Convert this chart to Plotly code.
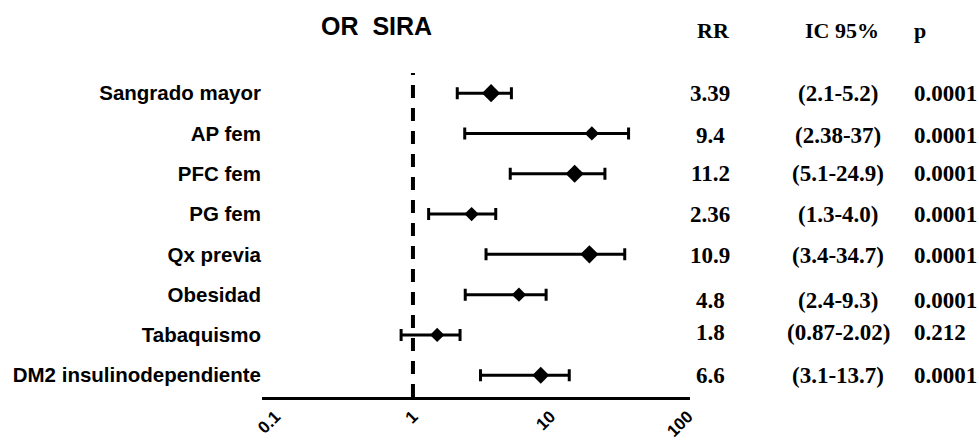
import plotly.graph_objects as go

# ---------------- data ----------------
categories = ["Sangrado mayor", "AP fem", "PFC fem", "PG fem", "Qx previa",
              "Obesidad", "Tabaquismo", "DM2 insulinodependiente"]
or_point = [3.7, 20.0, 15.0, 2.67, 19.2, 5.9, 1.5, 8.5]      # diamond position
ci_low = [2.1, 2.38, 5.1, 1.3, 3.4, 2.4, 0.82, 3.1]
ci_high = [5.2, 37.0, 24.9, 4.0, 34.7, 9.3, 2.2, 13.7]
rr_text = ["3.39", "9.4", "11.2", "2.36", "10.9", "4.8", "1.8", "6.6"]
ic_text = ["(2.1-5.2)", "(2.38-37)", "(5.1-24.9)", "(1.3-4.0)", "(3.4-34.7)",
           "(2.4-9.3)", "(0.87-2.02)", "(3.1-13.7)"]
p_text = ["0.0001", "0.0001", "0.0001", "0.0001", "0.0001", "0.0001", "0.212", "0.0001"]
x_tick_vals = [0.1, 1, 10, 100]
x_tick_labels = ["0.1", "1", "10", "100"]
title_text = "OR  SIRA"
header_rr, header_ic, header_p = "RR", "IC 95%", "p"
ref_value = 1

# ---------------- style ----------------
marker_sizes = [14, 11, 14, 11, 14, 11, 11, 13]
table_yshift = [0, -2, 0, 0, -1, -6, 2, 0]
SANS = "Liberation Sans, Arial, sans-serif"
SERIF = "Liberation Serif, Times New Roman, serif"

plus = [h - p for h, p in zip(ci_high, or_point)]
minus = [p - l for p, l in zip(or_point, ci_low)]

fig = go.Figure()
fig.add_trace(go.Scatter(
    x=or_point, y=categories, mode="markers",
    marker=dict(symbol="diamond", size=marker_sizes, color="black",
                line=dict(width=0), opacity=1),
    error_x=dict(type="data", symmetric=False, array=plus, arrayminus=minus,
                 color="black", thickness=3, width=6),
    showlegend=False, hoverinfo="x+y",
))

fig.add_shape(type="line", xref="x", yref="paper", x0=ref_value, x1=ref_value,
              y0=0, y1=1, line=dict(color="black", width=4, dash="13px,10px"))

# table columns (paper coords relative to plot area)
PL, PW = 262, 428
def px_to_paper(px):
    return (px - PL) / PW

TFONT = dict(family=SERIF, size=23, color="black")
annotations = []
for i, cat in enumerate(categories):
    annotations.append(dict(x=px_to_paper(710), y=cat, xref="paper", yref="y",
                            text=f"<b>{rr_text[i]}</b>", showarrow=False,
                            xanchor="center", yanchor="middle", yshift=table_yshift[i],
                            font=TFONT))
    annotations.append(dict(x=px_to_paper(838), y=cat, xref="paper", yref="y",
                            text=f"<b>{ic_text[i]}</b>", showarrow=False,
                            xanchor="center", yanchor="middle", yshift=table_yshift[i],
                            font=TFONT))
    annotations.append(dict(x=px_to_paper(912), y=cat, xref="paper", yref="y",
                            text=f"<b>{p_text[i]}</b>", showarrow=False,
                            xanchor="left", yanchor="middle", yshift=table_yshift[i],
                            font=TFONT))

PT, PH = 73, 324
def py_to_paper(py):
    return (PT + PH - py) / PH

for txt, px, anchor in [(header_rr, 713, "center"), (header_ic, 842, "center"), (header_p, 912, "left")]:
    annotations.append(dict(x=px_to_paper(px), y=py_to_paper(30), xref="paper", yref="paper",
                            text=f"<b>{txt}</b>", showarrow=False, xanchor=anchor,
                            yanchor="middle", font=dict(family=SERIF, size=22, color="black")))

annotations.append(dict(x=px_to_paper(376), y=py_to_paper(26), xref="paper", yref="paper",
                        text=f"<b>{title_text}</b>", showarrow=False, xanchor="center",
                        yanchor="middle", font=dict(family=SANS, size=25, color="black")))

fig.update_layout(
    width=979, height=448,
    margin=dict(l=262, r=289, t=73, b=51, autoexpand=False),
    paper_bgcolor="white", plot_bgcolor="white",
    annotations=annotations,
    xaxis=dict(type="log", range=[-1.098, 2.015], tickvals=x_tick_vals,
               ticktext=[f"<b>{t}</b>" for t in x_tick_labels],
               tickangle=-45, showline=True, linecolor="black", linewidth=3,
               showgrid=False, zeroline=False, ticks="", ticklabelstandoff=0,
               tickfont=dict(family=SANS, size=17, color="black")),
    yaxis=dict(type="category", categoryorder="array", categoryarray=categories,
               range=[7.54, -0.5], showline=False, showgrid=False, zeroline=False,
               ticks="", tickfont=dict(family=SANS, size=20.5, color="black")),
)
fig.update_yaxes(tickprefix="<b>", ticksuffix="</b>")

fig.write_html("out.html")
